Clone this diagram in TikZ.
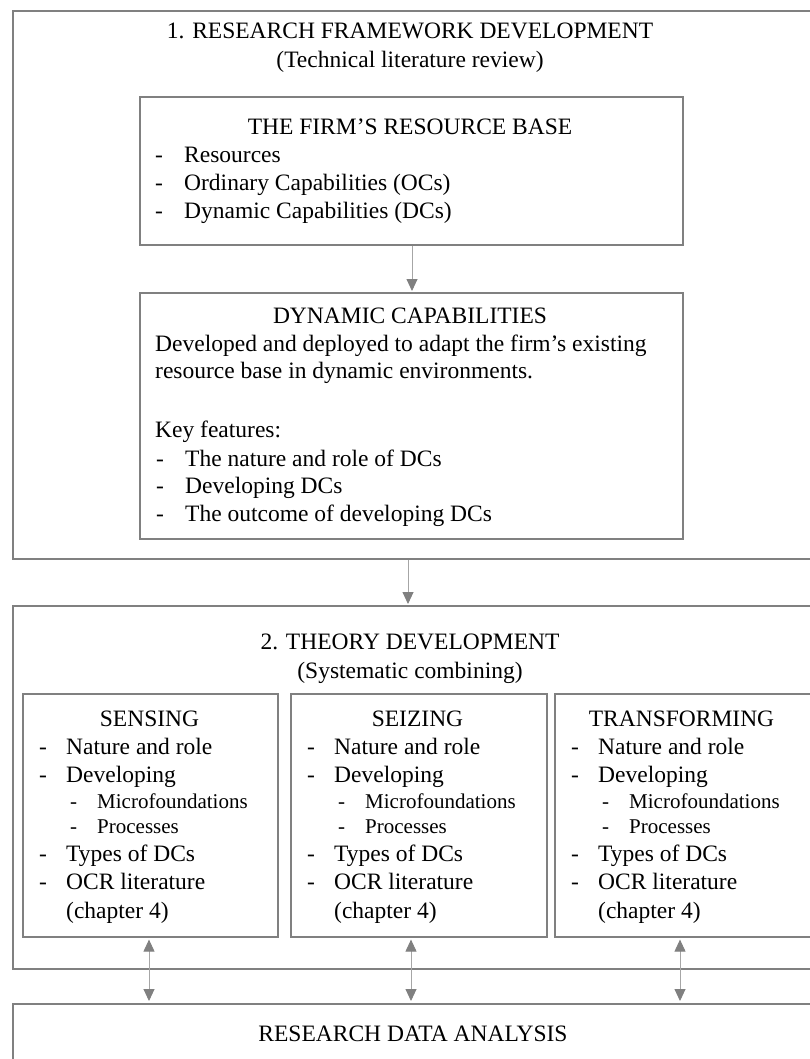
\documentclass[tikz,border=0pt]{standalone}
\usepackage{fontspec}
\setmainfont{Liberation Serif}
\usetikzlibrary{arrows.meta}
\definecolor{boxgray}{HTML}{808080}
\definecolor{linegray}{HTML}{A6A6A6}
\newcommand{\bigfont}{\fontsize{23.5}{28}\selectfont}
\newcommand{\smallfont}{\fontsize{21}{25}\selectfont}
\newcommand{\ditem}[5]{% name, dash x, baseline y, gap, text
  \node[txt,anchor=base west] (#1d) at (#2,#3) {-};
  \node[txt,anchor=base west] (#1) at (#2+#4,#3) {#5};}
\newcommand{\sitem}[5]{%
  \node[stxt,anchor=base west] (#1d) at (#2,#3) {-};
  \node[stxt,anchor=base west] (#1) at (#2+#4,#3) {#5};}
\tikzset{
  box/.style={draw=boxgray,line width=1.6pt,inner sep=0pt,anchor=north west},
  txt/.style={inner sep=0pt,font=\bigfont},
  stxt/.style={inner sep=0pt,font=\smallfont},
  conn/.style={draw=linegray,line width=0.9pt,
    -{Triangle[length=12pt,width=11pt,fill=boxgray,color=boxgray]},shorten >=1pt},
  biconn/.style={draw=linegray,line width=0.9pt,
    {Triangle[length=12pt,width=11pt,fill=boxgray,color=boxgray]}-{Triangle[length=12pt,width=11pt,fill=boxgray,color=boxgray]},shorten >=2pt,shorten <=2pt}
}
\begin{document}
\begin{tikzpicture}[x=1pt,y=-1pt]
\useasboundingbox (0,0) rectangle (810,1059);
\fill[white] (0,0) rectangle (810,1059);
% outer box 1
\node[box,minimum width=800pt,minimum height=548pt] (b1) at (12,10) {};
\node[txt,anchor=base] (t1) at (410,39) {1. RESEARCH FRAMEWORK DEVELOPMENT};
\node[txt,anchor=base] (t1b) at (410,68) {(Technical literature review)};
% box A
\node[box,minimum width=543pt,minimum height=148pt] (bA) at (139,96) {};
\node[txt,anchor=base] (tA) at (410,135) {THE FIRM’S RESOURCE BASE};
\ditem{a1}{155}{163}{29}{Resources}
\ditem{a2}{155}{191}{29}{Ordinary Capabilities (OCs)}
\ditem{a3}{155}{219}{29}{Dynamic Capabilities (DCs)}
% box B
\node[box,minimum width=543pt,minimum height=246pt] (bB) at (139,292) {};
\node[txt,anchor=base] (tB) at (410,323) {DYNAMIC CAPABILITIES};
\node[txt,anchor=base west] (tB1) at (155,351) {Developed and deployed to adapt the firm’s existing};
\node[txt,anchor=base west] (tB2) at (155,378) {resource base in dynamic environments.};
\node[txt,anchor=base west] (tB3) at (155,437) {Key features:};
\ditem{k1}{156}{466}{29}{The nature and role of DCs}
\ditem{k2}{156}{493}{29}{Developing DCs}
\ditem{k3}{156}{521}{29}{The outcome of developing DCs}
% outer box 2
\node[box,minimum width=800pt,minimum height=363pt] (b2) at (12,605) {};
\node[txt,anchor=base] (t2) at (410,649) {2. THEORY DEVELOPMENT};
\node[txt,anchor=base] (t2b) at (410,678) {(Systematic combining)};
% sub boxes
\node[box,minimum width=255pt,minimum height=243pt] (sen) at (22,693) {};
\node[box,minimum width=256pt,minimum height=243pt] (sei) at (290,693) {};
\node[box,minimum width=257pt,minimum height=243pt] (tra) at (554,693) {};
\foreach \nm/\xl/\ttl in {s/22/SENSING,z/290/SEIZING,t/554/TRANSFORMING}{
  \node[txt,anchor=base] (\nm title) at (\xl+127.5,726) {\ttl};
  \ditem{\nm1}{\xl+17}{754}{27}{Nature and role}
  \ditem{\nm2}{\xl+17}{782}{27}{Developing}
  \sitem{\nm3}{\xl+48}{808}{27}{Microfoundations}
  \sitem{\nm4}{\xl+48}{833}{27}{Processes}
  \ditem{\nm5}{\xl+17}{861}{27}{Types of DCs}
  \ditem{\nm6}{\xl+17}{889}{27}{OCR literature}
  \node[txt,anchor=base west] (\nm7) at (\xl+44,918) {(chapter 4)};
}
% bottom box
\node[box,minimum width=800pt,minimum height=120pt] (rda) at (12,1003) {};
\node[txt,anchor=base] (trda) at (413,1041) {RESEARCH DATA ANALYSIS};
% connectors
\draw[conn] (bA.south -| 412,0) -- (bB.north -| 412,0);
\draw[conn] (b1.south -| 408,0) -- (b2.north -| 408,0);
\draw[biconn] (sen.south -| 149,0) -- (rda.north -| 149,0);
\draw[biconn] (sei.south -| 411,0) -- (rda.north -| 411,0);
\draw[biconn] (tra.south -| 680,0) -- (rda.north -| 680,0);
\end{tikzpicture}
\end{document}
